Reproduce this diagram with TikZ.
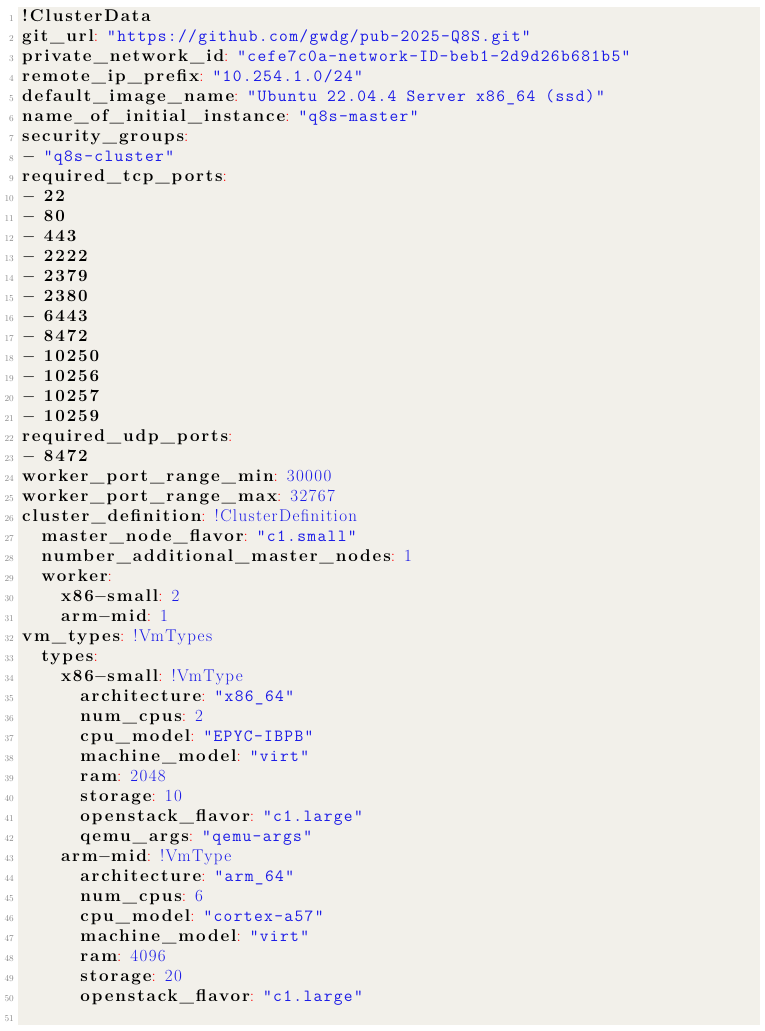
\documentclass[tikz,border=0pt]{standalone}
\usepackage{fontspec}
\newfontfamily\kfnt{Latin Modern Roman}[LetterSpace=11]
\newfontfamily\sfnt{Latin Modern Mono}[LetterSpace=8]
\newfontfamily\rfnt{Latin Modern Roman}[LetterSpace=8]
\definecolor{bgc}{HTML}{F2F0EA}
\definecolor{strc}{HTML}{1A1AE6}
\definecolor{lnc}{HTML}{8A8A8A}
\newcommand\K[1]{{\kfnt\bfseries #1}}
\newcommand\C{{\rfnt\color{red}:}\hspace{9pt}}
\newcommand\Sv[1]{{\sfnt\color{strc}#1}}
\newcommand\Nv[1]{{\rfnt\color{strc}#1}}
\newcommand\mn{\ensuremath{-}}
\tikzset{ln/.style={anchor=base east,font=\fontsize{9}{9}\selectfont,text=lnc,inner sep=0pt},
 tx/.style={anchor=base west,font=\fontsize{17}{17}\selectfont,inner sep=0pt}}
\newcommand\Ln[3]{\node[ln] (n#1) at (14,{-21-20*(#1-1)}) {#1};
 \node[tx] (t#1) at ({22+19.4*#2},{-21-20*(#1-1)}) {#3};}
\begin{document}
\begin{tikzpicture}[x=1pt,y=1pt]
\useasboundingbox (0,0) rectangle (765,-1031);
\fill[bgc] (18,-7) rectangle (760,-1025);
\Ln{1}{0}{\K{!ClusterData}}
\Ln{2}{0}{\K{git\_url}\C\Sv{"https://github.com/gwdg/pub-2025-Q8S.git"}}
\Ln{3}{0}{\K{private\_network\_id}\C\Sv{"cefe7c0a-network-ID-beb1-2d9d26b681b5"}}
\Ln{4}{0}{\K{remote\_ip\_prefix}\C\Sv{"10.254.1.0/24"}}
\Ln{5}{0}{\K{default\_image\_name}\C\Sv{"Ubuntu 22.04.4 Server x86\_64 (ssd)"}}
\Ln{6}{0}{\K{name\_of\_initial\_instance}\C\Sv{"q8s-master"}}
\Ln{7}{0}{\K{security\_groups}{\rfnt\color{red}:}}
\Ln{8}{0}{\K{\mn{} }\Sv{"q8s-cluster"}}
\Ln{9}{0}{\K{required\_tcp\_ports}{\rfnt\color{red}:}}
\Ln{10}{0}{\K{\mn{} 22}}
\Ln{11}{0}{\K{\mn{} 80}}
\Ln{12}{0}{\K{\mn{} 443}}
\Ln{13}{0}{\K{\mn{} 2222}}
\Ln{14}{0}{\K{\mn{} 2379}}
\Ln{15}{0}{\K{\mn{} 2380}}
\Ln{16}{0}{\K{\mn{} 6443}}
\Ln{17}{0}{\K{\mn{} 8472}}
\Ln{18}{0}{\K{\mn{} 10250}}
\Ln{19}{0}{\K{\mn{} 10256}}
\Ln{20}{0}{\K{\mn{} 10257}}
\Ln{21}{0}{\K{\mn{} 10259}}
\Ln{22}{0}{\K{required\_udp\_ports}{\rfnt\color{red}:}}
\Ln{23}{0}{\K{\mn{} 8472}}
\Ln{24}{0}{\K{worker\_port\_range\_min}\C\Nv{30000}}
\Ln{25}{0}{\K{worker\_port\_range\_max}\C\Nv{32767}}
\Ln{26}{0}{\K{cluster\_definition}\C\Nv{!ClusterDefinition}}
\Ln{27}{1}{\K{master\_node\_flavor}\C\Sv{"c1.small"}}
\Ln{28}{1}{\K{number\_additional\_master\_nodes}\C\Nv{1}}
\Ln{29}{1}{\K{worker}{\rfnt\color{red}:}}
\Ln{30}{2}{\K{x86\mn small}\C\Nv{2}}
\Ln{31}{2}{\K{arm\mn mid}\C\Nv{1}}
\Ln{32}{0}{\K{vm\_types}\C\Nv{!VmTypes}}
\Ln{33}{1}{\K{types}{\rfnt\color{red}:}}
\Ln{34}{2}{\K{x86\mn small}\C\Nv{!VmType}}
\Ln{35}{3}{\K{architecture}\C\Sv{"x86\_64"}}
\Ln{36}{3}{\K{num\_cpus}\C\Nv{2}}
\Ln{37}{3}{\K{cpu\_model}\C\Sv{"EPYC-IBPB"}}
\Ln{38}{3}{\K{machine\_model}\C\Sv{"virt"}}
\Ln{39}{3}{\K{ram}\C\Nv{2048}}
\Ln{40}{3}{\K{storage}\C\Nv{10}}
\Ln{41}{3}{\K{openstack\_flavor}\C\Sv{"c1.large"}}
\Ln{42}{3}{\K{qemu\_args}\C\Sv{"qemu-args"}}
\Ln{43}{2}{\K{arm\mn mid}\C\Nv{!VmType}}
\Ln{44}{3}{\K{architecture}\C\Sv{"arm\_64"}}
\Ln{45}{3}{\K{num\_cpus}\C\Nv{6}}
\Ln{46}{3}{\K{cpu\_model}\C\Sv{"cortex-a57"}}
\Ln{47}{3}{\K{machine\_model}\C\Sv{"virt"}}
\Ln{48}{3}{\K{ram}\C\Nv{4096}}
\Ln{49}{3}{\K{storage}\C\Nv{20}}
\Ln{50}{3}{\K{openstack\_flavor}\C\Sv{"c1.large"}}
\node[ln] (n51) at (14,-1021) {51};
\end{tikzpicture}
\end{document}
